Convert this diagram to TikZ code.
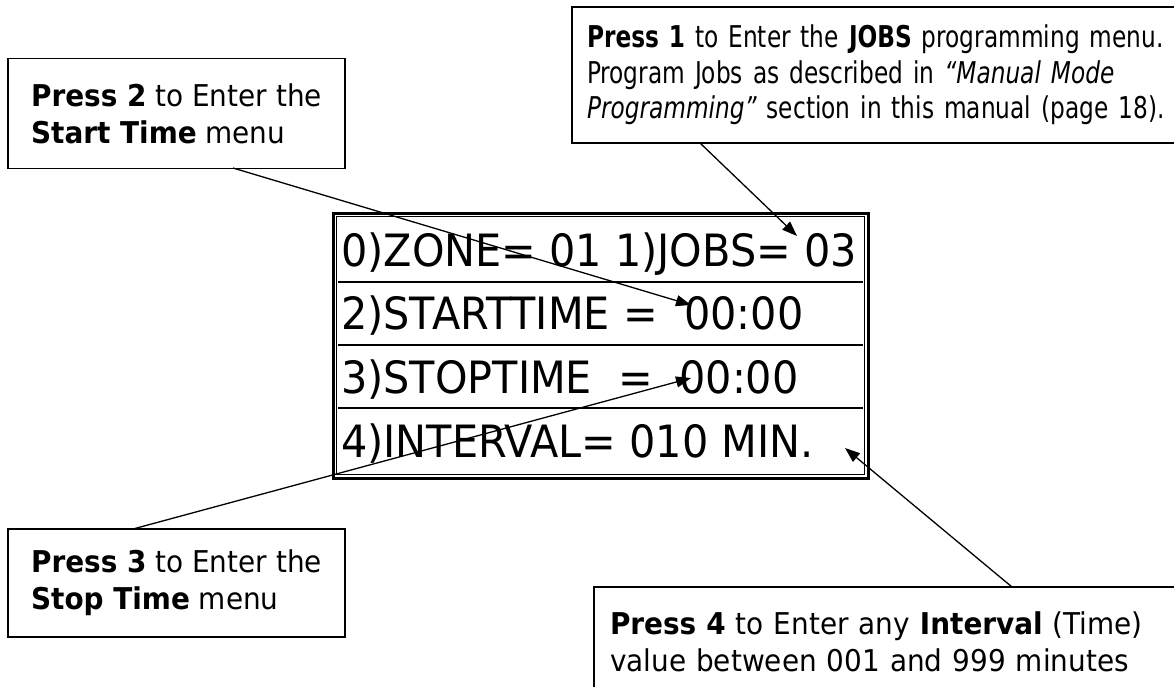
\documentclass[tikz,border=0pt]{standalone}
\usepackage{fontspec}
\setmainfont{DejaVu Sans}[FakeStretch=0.93]
\newfontfamily\jobsfont{DejaVu Sans}[FakeStretch=0.775]
\usepackage{tikz}
\usetikzlibrary{arrows.meta}

\begin{document}
\begin{tikzpicture}[x=1pt, y=-1pt,
  note/.style = {draw, line width=1.2pt, inner sep=0pt, align=left,
                 font=\fontsize{30}{37}\selectfont},
  row/.style = {anchor=base west, inner sep=0pt, font=\fontsize{44.5}{50}\selectfont},
  arr/.style = {line width=1.3pt, -{Triangle[length=15pt, width=11pt]}}]
\useasboundingbox (0,0) rectangle (1174,686);
\clip (0,0) rectangle (1174,686);
% notes
\node[note, minimum width=337, minimum height=110] (p2) at (176.5,113.5)
  {\textbf{Press 2} to Enter the\\ \textbf{Start Time} menu};
\node[note, minimum width=618, minimum height=136, text width=588,
      font=\jobsfont\fontsize{30}{35.5}\selectfont] (p1) at (881,75)
  {\textbf{Press 1} to Enter the \textbf{JOBS} programming menu.\\
   Program Jobs as described in \textit{“Manual Mode}\\
   \textit{Programming”} section in this manual (page 18).};
\node[note, minimum width=337, minimum height=108] (p3) at (176.5,583)
  {\textbf{Press 3} to Enter the\\ \textbf{Stop Time} menu};
\node[note, minimum width=596, minimum height=110, text width=564] (p4) at (892,642)
  {\textbf{Press 4} to Enter any \textbf{Interval} (Time)\\
   value between 001 and 999 minutes};
% display
\node[draw, line width=3pt, minimum width=535, minimum height=265, inner sep=0pt] (lcd) at (600.5,345.5) {};
\draw[line width=1.2pt] ([shift={(5,5)}]lcd.north west) rectangle ([shift={(-5,-5)}]lcd.south east);
\foreach \y in {282,345,408}
  \draw[line width=1.2pt] (338,\y) -- (863,\y);
\node[row] (r0) at (341,266) {0)ZONE= 01 1)JOBS= 03};
\node[row] (r1) at (341,329) {2)STARTTIME =\ \ 00:00};
\node[row] (r2) at (341,393) {3)STOPTIME\ \ =\ \ 00:00};
\node[row] (r3) at (341,457) {4)INTERVAL= 010 MIN.};
% arrows
\coordinate (s1) at (700,143);
\coordinate (t1) at (797,236);
\coordinate (s2) at (233,168);
\coordinate (t2) at (691,305);
\coordinate (s3) at (133,529);
\coordinate (t3) at (691,378);
\coordinate (s4) at (1012,587);
\coordinate (t4) at (845,448);
\draw[arr] (s1) -- (t1);
\draw[arr] (s2) -- (t2);
\draw[arr] (s3) -- (t3);
\draw[arr] (s4) -- (t4);
\end{tikzpicture}
\end{document}
